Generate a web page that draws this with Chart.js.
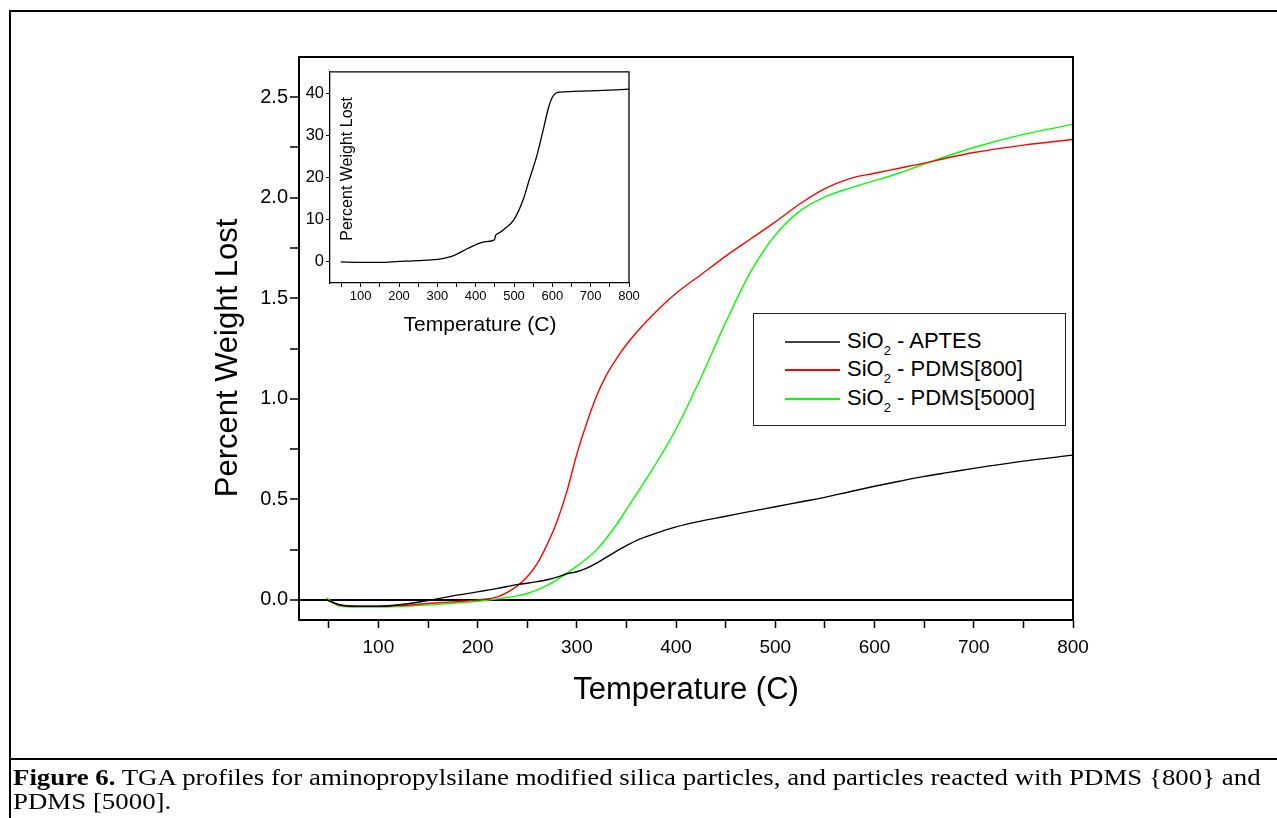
<!DOCTYPE html>
<html>
<head>
<meta charset="utf-8">
<script src="https://cdn.jsdelivr.net/npm/chart.js@4.4.1/dist/chart.umd.min.js"></script>
<style>
  body { margin: 0; width: 1277px; height: 818px; overflow: hidden; background: #fff; font-family: "Liberation Sans", Arial, sans-serif; }
  #frame { position: absolute; left: 9px; top: 10px; width: 1300px; height: 900px; border-left: 2px solid #000; border-top: 2px solid #000; }
  #rule { position: absolute; left: 9px; top: 758px; width: 1300px; height: 2px; background: #000; }
  #main { position: absolute; left: 0; top: 0; }
  #inset { position: absolute; left: 280px; top: 60px; }
  #legend { position: absolute; left: 753px; top: 313px; width: 311px; height: 111px; border: 1.5px solid #222; background: #fff; }
  .row { position: absolute; left: 0; height: 28px; line-height: 28px; font-size: 22px; white-space: nowrap; }
  .row .line { position: absolute; left: 31px; width: 55px; top: 14px; height: 1.5px; }
  .row .txt { position: absolute; left: 93px; top: 0; }
  .row sub { font-size: 13px; vertical-align: -7px; line-height: 0; }
  #caption { position: absolute; left: 13px; top: 766px; font-family: "Liberation Serif", "Times New Roman", serif; font-size: 23px; line-height: 24px; white-space: nowrap; transform: scaleX(1.168); transform-origin: 0 0; }
</style>
</head>
<body>
<div id="frame"></div>
<div id="rule"></div>
<canvas id="main" width="1277" height="818"></canvas>
<canvas id="inset" width="380" height="280"></canvas>
<div id="legend"></div>
<div id="caption"><b>Figure 6.</b> TGA profiles for aminopropylsilane modified silica particles, and particles reacted with PDMS {800} and<br>PDMS [5000].</div>
<script>
// temperatures (C) and percent weight lost
const temps = [48, 60, 80, 100, 125, 150, 175, 200, 220, 240, 250, 260, 270, 280, 290, 300, 310, 320, 330, 340,
               350, 360, 375, 400, 425, 450, 475, 500, 525, 550, 575, 600, 625, 650, 675, 700, 750, 800];
const aptes = [0.0, -0.024, -0.032, -0.032, -0.022, -0.003, 0.02, 0.04, 0.057, 0.076, 0.083, 0.091, 0.1, 0.113, 0.13, 0.14, 0.158, 0.183, 0.213, 0.243,
               0.27, 0.295, 0.323, 0.363, 0.392, 0.416, 0.44, 0.463, 0.487, 0.51, 0.538, 0.565, 0.59, 0.614, 0.634, 0.654, 0.69, 0.72];
const pdms800 = [0.0, -0.022, -0.03, -0.03, -0.027, -0.018, -0.01, 0.0, 0.015, 0.07, 0.115, 0.18, 0.275, 0.39, 0.54, 0.725, 0.88, 1.015, 1.12, 1.2,
                 1.27, 1.33, 1.41, 1.525, 1.617, 1.71, 1.795, 1.88, 1.97, 2.045, 2.095, 2.122, 2.147, 2.172, 2.2, 2.225, 2.262, 2.29];
const pdms5000 = [0.01, -0.03, -0.036, -0.036, -0.032, -0.026, -0.017, -0.007, 0.005, 0.02, 0.032, 0.05, 0.072, 0.1, 0.133, 0.168, 0.206, 0.25, 0.308, 0.375,
                  0.45, 0.525, 0.64, 0.85, 1.105, 1.38, 1.63, 1.815, 1.935, 2.004, 2.048, 2.085, 2.123, 2.168, 2.21, 2.25, 2.315, 2.365];
const seriesNames = ['SiO2 - APTES', 'SiO2 - PDMS[800]', 'SiO2 - PDMS[5000]'];
const seriesColors = ['#000000', '#ff0000', '#00ff00'];

const xTicks = [50, 100, 150, 200, 250, 300, 350, 400, 450, 500, 550, 600, 650, 700, 750, 800];
const yTicks = [0, 0.25, 0.5, 0.75, 1, 1.25, 1.5, 1.75, 2, 2.25, 2.5];

// inset: APTES alone on its own scale
const insetTemps = [48, 100, 150, 200, 250, 300, 325, 350, 375, 400, 425, 449, 452, 460, 475, 500, 525, 540, 560, 575, 590, 600, 610, 620, 700, 800];
const insetLoss = [0, -0.1, -0.1, 0.1, 0.3, 0.6, 1.0, 1.8, 3.0, 4.05, 4.8, 5.2, 6.3, 6.8, 7.8, 10.0, 15.0, 19.5, 25.3, 30.8, 36.5, 39.0, 40.0, 40.2, 40.5, 40.9];
const insetYTicks = [0, 10, 20, 30, 40];

const FONT = '"Liberation Sans", Arial, sans-serif';

function pts(xs, ys) {
    return xs.map((x, i) => ({ x: x, y: ys[i] }));
}

// box around the plot area (top + right sides)
const boxFrame = {
    id: 'boxFrame',
    afterDraw(chart, args, opts) {
        const { left, top, right, bottom } = chart.chartArea;
        const c = chart.ctx;
        c.save();
        c.strokeStyle = '#000';
        c.lineWidth = opts.width || 2;
        c.beginPath();
        c.moveTo(left, top);
        c.lineTo(right, top);
        c.lineTo(right, bottom);
        c.stroke();
        c.restore();
    }
};

// axis titles placed relative to the chart area
const axisTitles = {
    id: 'axisTitles',
    afterDraw(chart, args, opts) {
        const a = chart.chartArea;
        const c = chart.ctx;
        (opts.items || []).forEach(t => {
            c.save();
            c.font = t.font;
            c.fillStyle = '#000';
            c.textAlign = 'center';
            c.textBaseline = 'middle';
            c.translate(a.left + t.dx, a.top + t.dy);
            if (t.vertical) c.rotate(-Math.PI / 2);
            c.fillText(t.text, 0, 0);
            c.restore();
        });
    }
};

const datasets = [aptes, pdms800, pdms5000].map((ys, i) => ({
    label: seriesNames[i],
    data: pts(temps, ys),
    borderColor: seriesColors[i],
    borderWidth: 1.4,
    pointRadius: 0,
    fill: false,
    cubicInterpolationMode: 'monotone'
}));

const mainChart = new Chart(document.getElementById('main'), {
    type: 'line',
    data: { datasets: datasets },
    plugins: [boxFrame, axisTitles],
    options: {
        responsive: false,
        animation: false,
        devicePixelRatio: 1,
        layout: { padding: { left: 0, top: 57, right: 204, bottom: 0 } },
        plugins: {
            legend: { display: false },
            tooltip: { enabled: false },
            boxFrame: { width: 2 },
            axisTitles: {
                items: [
                    { text: 'Temperature (C)', font: '31px ' + FONT, dx: 387, dy: 633 },
                    { text: 'Percent Weight Lost', font: '31px ' + FONT, dx: -71, dy: 301, vertical: true }
                ]
            }
        },
        scales: {
            x: {
                type: 'linear',
                min: 20,
                max: 800,
                afterBuildTicks: s => { s.ticks = xTicks.map(v => ({ value: v })); },
                afterFit: s => { s.height = 198; },
                border: { display: true, color: '#000', width: 2 },
                grid: { drawOnChartArea: false, tickLength: 8, tickColor: '#000', tickWidth: 1.5 },
                ticks: {
                    color: '#000',
                    font: { family: FONT, size: 19 },
                    padding: 8,
                    maxRotation: 0,
                    autoSkip: false,
                    callback: v => (v % 100 === 0 ? String(v) : '')
                }
            },
            y: {
                min: -0.1,
                max: 2.7,
                afterBuildTicks: s => { s.ticks = yTicks.map(v => ({ value: v })); },
                afterFit: s => { s.width = 299; },
                border: { display: true, color: '#000', width: 2 },
                grid: {
                    drawOnChartArea: true,
                    color: ctx => (ctx.tick && ctx.tick.value === 0 ? '#000' : 'rgba(0,0,0,0)'),
                    lineWidth: 2,
                    tickLength: 9,
                    tickColor: '#000',
                    tickWidth: 1.5
                },
                ticks: {
                    color: '#000',
                    font: { family: FONT, size: 20 },
                    padding: 2,
                    autoSkip: false,
                    callback: v => (Math.abs(v * 2 - Math.round(v * 2)) < 1e-9 ? v.toFixed(1) : '')
                }
            }
        }
    }
});

new Chart(document.getElementById('inset'), {
    type: 'line',
    data: {
        datasets: [{
            label: seriesNames[0],
            data: pts(insetTemps, insetLoss),
            borderColor: '#000',
            borderWidth: 1.3,
            pointRadius: 0,
            fill: false,
            cubicInterpolationMode: 'monotone'
        }]
    },
    plugins: [boxFrame, axisTitles],
    options: {
        responsive: false,
        animation: false,
        devicePixelRatio: 1,
        layout: { padding: { left: 0, top: 9, right: 31, bottom: 0 } },
        plugins: {
            legend: { display: false },
            tooltip: { enabled: false },
            boxFrame: { width: 1.3 },
            axisTitles: {
                items: [
                    { text: 'Temperature (C)', font: '21px ' + FONT, dx: 150, dy: 253 },
                    { text: 'Percent Weight Lost', font: '16px ' + FONT, dx: 18, dy: 97, vertical: true }
                ]
            }
        },
        scales: {
            x: {
                type: 'linear',
                min: 20,
                max: 800,
                afterBuildTicks: s => { s.ticks = xTicks.map(v => ({ value: v })); },
                afterFit: s => { s.height = 57; },
                border: { display: true, color: '#000', width: 1.3 },
                grid: { drawOnChartArea: false, tickLength: 4, tickColor: '#000', tickWidth: 1 },
                ticks: {
                    color: '#000',
                    font: { family: FONT, size: 13 },
                    padding: 2,
                    maxRotation: 0,
                    autoSkip: false,
                    callback: v => (v % 100 === 0 ? String(v) : '')
                }
            },
            y: {
                min: -5,
                max: 45,
                afterBuildTicks: s => { s.ticks = insetYTicks.map(v => ({ value: v })); },
                afterFit: s => { s.width = 50; },
                border: { display: true, color: '#000', width: 1.3 },
                grid: { drawOnChartArea: false, tickLength: 4, tickColor: '#000', tickWidth: 1 },
                ticks: {
                    color: '#000',
                    font: { family: FONT, size: 16.5 },
                    padding: 2,
                    autoSkip: false
                }
            }
        }
    }
});

// legend box, built from the main chart's datasets
const legendEl = document.getElementById('legend');
const rowTops = [13, 41, 70];
mainChart.data.datasets.forEach((ds, i) => {
    const row = document.createElement('div');
    row.className = 'row';
    row.style.top = rowTops[i] + 'px';
    const c = ds.borderColor === '#000000' ? '#444' : ds.borderColor;
    row.innerHTML = `<span class="line" style="background:${c}"></span>` +
        `<span class="txt">${ds.label.replace('SiO2', 'SiO<sub>2</sub>')}</span>`;
    legendEl.appendChild(row);
});
</script>
</body>
</html>
